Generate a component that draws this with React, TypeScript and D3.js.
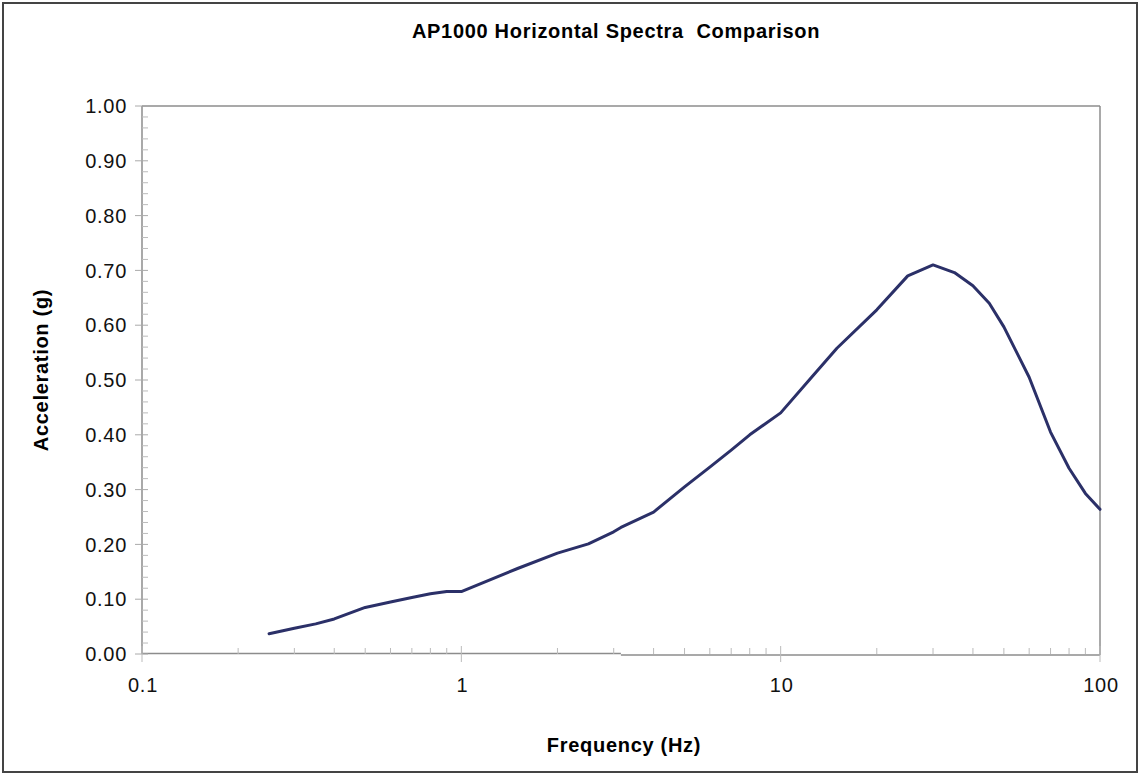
import React from "react";
import * as d3 from "d3";

const frequencies = [0.25, 0.3, 0.35, 0.4, 0.5, 0.6, 0.7, 0.8, 0.9, 1.0, 1.5, 2.0, 2.5, 3.0, 3.16, 4, 5, 6, 7, 8, 10, 12.5, 15, 20, 25, 30, 35, 40, 45, 50, 60, 70, 80, 90, 100];
const accelerations = [0.037, 0.047, 0.055, 0.064, 0.085, 0.095, 0.103, 0.110, 0.114, 0.114, 0.156, 0.184, 0.201, 0.223, 0.231, 0.259, 0.305, 0.341, 0.372, 0.400, 0.440, 0.505, 0.558, 0.628, 0.690, 0.710, 0.696, 0.672, 0.640, 0.597, 0.505, 0.405, 0.339, 0.293, 0.264];
const xTicks = [0.1, 1, 10, 100];
const xTickLabels = ["0.1", "1", "10", "100"];
const yTicks = [0, 0.1, 0.2, 0.3, 0.4, 0.5, 0.6, 0.7, 0.8, 0.9, 1.0];

const W = 1141;
const H = 776;
const L = 142, R = 1100, T = 106, B = 654;

export default function App() {
  const x = d3.scaleLog().domain([0.1, 100]).range([L, R]);
  const y = d3.scaleLinear().domain([0, 1]).range([B, T]);
  const pts = frequencies.map((f, i) => [f, accelerations[i]] as [number, number]);
  const line = d3.line<[number, number]>().x(d => x(d[0])).y(d => y(d[1]));
  const minorX: number[] = [];
  [0.1, 1, 10].forEach(dec => { for (let k = 2; k <= 9; k++) minorX.push(dec * k); });
  const minorY: number[] = [];
  for (let i = 0; i < 50; i++) if (i % 5 !== 0) minorY.push(i * 0.02);
  const font = "'Liberation Sans', Arial, sans-serif";
  const axisColor = "#8c8c8c";
  const split = x(3.16);
  const ls = 0.7;
  const fs = 20;
  return (
    <svg width={W} height={H} style={{ position: "absolute", left: 0, top: 0 }} fontFamily={font}>
      <rect x={0} y={0} width={W} height={H} fill="#fff" />
      <rect x={3} y={3} width={1134} height={769} fill="none" stroke="#444" strokeWidth={2} />
      <text x={616} y={38} textAnchor="middle" fontWeight="bold" fontSize={fs} letterSpacing={ls} fill="#000" style={{ whiteSpace: "pre" }}>{"AP1000 Horizontal Spectra  Comparison"}</text>
      {/* plot frame */}
      <line x1={L} y1={T} x2={R} y2={T} stroke={axisColor} strokeWidth={1.5} />
      <line x1={R} y1={T} x2={R} y2={B + 1} stroke={axisColor} strokeWidth={1.5} />
      <line x1={L} y1={T} x2={L} y2={B} stroke={axisColor} strokeWidth={1.5} />
      <line x1={L} y1={y(0) - 0.5} x2={split} y2={y(0) - 0.5} stroke={axisColor} strokeWidth={1.5} />
      <line x1={split} y1={y(0) + 1} x2={R} y2={y(0) + 1} stroke={axisColor} strokeWidth={1.5} />
      {/* y ticks */}
      {yTicks.map(t => (
        <g key={"yt" + t}>
          <line x1={L - 7} x2={L + 6} y1={y(t)} y2={y(t)} stroke="#aaa" strokeWidth={1} />
          <text x={127} y={y(t)} dy="0.36em" textAnchor="end" fontSize={fs} letterSpacing={ls} fill="#111">{t.toFixed(2)}</text>
        </g>
      ))}
      {minorY.map(t => (
        <line key={"ym" + t} x1={L} x2={L + 6} y1={y(t)} y2={y(t)} stroke="#bbb" strokeWidth={1} />
      ))}
      {/* x ticks */}
      {xTicks.map((t, i) => (
        <g key={"xt" + t}>
          <line x1={x(t)} x2={x(t)} y1={B - 8} y2={B + 8} stroke="#bbb" strokeWidth={1} />
          <text x={x(t) + 1} y={692} textAnchor="middle" fontSize={fs} letterSpacing={ls} fill="#111">{xTickLabels[i]}</text>
        </g>
      ))}
      {minorX.map(t => (
        <line key={"xm" + t} x1={x(t)} x2={x(t)} y1={B - 6} y2={B} stroke="#bbb" strokeWidth={1} />
      ))}
      {/* data */}
      <path d={line(pts) || ""} fill="none" stroke="#2b3068" strokeWidth={3} strokeLinejoin="round" strokeLinecap="round" />
      <text x={624} y={752} textAnchor="middle" fontWeight="bold" fontSize={fs} letterSpacing={ls} fill="#000">Frequency (Hz)</text>
      <text transform={`translate(48,370) rotate(-90)`} textAnchor="middle" fontWeight="bold" fontSize={fs} letterSpacing={ls} fill="#000">Acceleration (g)</text>
    </svg>
  );
}
